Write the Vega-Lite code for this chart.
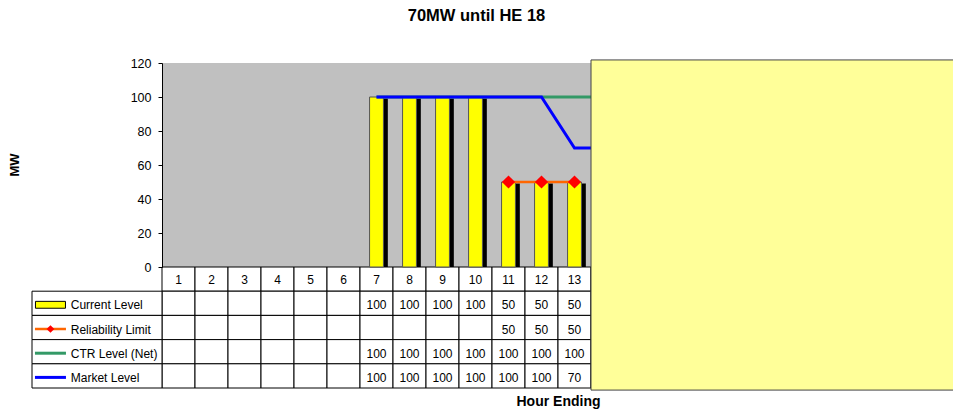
{
  "$schema": "https://vega.github.io/schema/vega-lite/v6.json",
  "autosize": {"type": "none"},
  "padding": {"left": 32, "top": 63, "right": 0, "bottom": 25},
  "width": 921,
  "height": 325,
  "title": {"text": "70MW until HE 18", "font": "Liberation Sans", "fontSize": 16.5, "fontWeight": "bold", "color": "#000", "anchor": "middle", "frame": "group", "baseline": "middle", "offset": 25, "dx": -16},
  "config": {"view": {"stroke": null}, "font": "Liberation Sans", "text": {"font": "Liberation Sans"}},
  "datasets": {
    "hours": [
      {"hour": 1}, {"hour": 2}, {"hour": 3}, {"hour": 4}, {"hour": 5}, {"hour": 6},
      {"hour": 7, "Current Level": 100, "CTR Level (Net)": 100, "Market Level": 100},
      {"hour": 8, "Current Level": 100, "CTR Level (Net)": 100, "Market Level": 100},
      {"hour": 9, "Current Level": 100, "CTR Level (Net)": 100, "Market Level": 100},
      {"hour": 10, "Current Level": 100, "CTR Level (Net)": 100, "Market Level": 100},
      {"hour": 11, "Current Level": 50, "Reliability Limit": 50, "CTR Level (Net)": 100, "Market Level": 100},
      {"hour": 12, "Current Level": 50, "Reliability Limit": 50, "CTR Level (Net)": 100, "Market Level": 100},
      {"hour": 13, "Current Level": 50, "Reliability Limit": 50, "CTR Level (Net)": 100, "Market Level": 70},
      {"hour": 14, "CTR Level (Net)": 100, "Market Level": 70},
      {"hour": 15, "CTR Level (Net)": 100, "Market Level": 70},
      {"hour": 16, "CTR Level (Net)": 100, "Market Level": 70},
      {"hour": 17, "CTR Level (Net)": 100, "Market Level": 70},
      {"hour": 18, "CTR Level (Net)": 100, "Market Level": 70},
      {"hour": 19}, {"hour": 20}, {"hour": 21}, {"hour": 22}, {"hour": 23}, {"hour": 24}
    ],
    "legend": [
      {"series": "Current Level"},
      {"series": "Reliability Limit"},
      {"series": "CTR Level (Net)"},
      {"series": "Market Level"}
    ],
    "cover": [{"from": 14, "to": 24}]
  },
  "resolve": {"scale": {"x": "independent", "y": "independent"}, "axis": {"x": "independent", "y": "independent"}},
  "layer": [
    {
      "data": {"name": "hours"},
      "mark": {"type": "rect", "fill": "#C0C0C0"},
      "encoding": {
        "x": {"field": "hour", "type": "ordinal", "scale": {"domain": [1,2,3,4,5,6,7,8,9,10,11,12,13,14,15,16,17,18,19,20,21,22,23,24], "range": [130, 922], "paddingInner": 0, "paddingOuter": 0}, "axis": null},
        "y": {"datum": 0, "type": "quantitative", "scale": {"domain": [0, 120], "range": [204, 0], "nice": false, "zero": false},
          "axis": {"orient": "left", "offset": -130, "values": [0, 20, 40, 60, 80, 100, 120], "grid": false, "domain": true, "domainColor": "#000", "domainWidth": 1, "ticks": true, "tickColor": "#000", "tickSize": 4, "labelFont": "Liberation Sans", "labelFontSize": 12.5, "labelColor": "#000", "labelPadding": 7, "title": "MW", "titleFont": "Liberation Sans", "titleFontSize": 13, "titleFontWeight": "bold", "titleColor": "#000", "titleX": -148, "titleY": 101.5, "titleAngle": -90, "titleAlign": "center", "titleBaseline": "middle", "zindex": 1}},
        "y2": {"datum": 120}
      }
    },
    {
      "data": {"name": "hours"},
      "mark": {"type": "rect", "fill": "#FFFFFF", "stroke": "#000", "strokeWidth": 1},
      "encoding": {
        "x": {"field": "hour", "type": "ordinal", "scale": {"domain": [1,2,3,4,5,6,7,8,9,10,11,12,13,14,15,16,17,18,19,20,21,22,23,24], "range": [130, 922], "paddingInner": 0, "paddingOuter": 0},
          "axis": {"orient": "bottom", "labels": false, "ticks": false, "domain": false, "grid": false, "title": "Hour Ending", "titleFont": "Liberation Sans", "titleFontSize": 14, "titleFontWeight": "bold", "titleColor": "#000", "titleY": 13, "titleBaseline": "middle"}},
        "y": {"datum": "HE", "type": "nominal", "scale": {"domain": ["HE", "Current Level", "Reliability Limit", "CTR Level (Net)", "Market Level"], "range": [204, 325], "paddingInner": 0, "paddingOuter": 0}, "axis": null}
      }
    },
    {
      "data": {"name": "hours"},
      "transform": [{"fold": ["Current Level", "Reliability Limit", "CTR Level (Net)", "Market Level"], "as": ["series", "value"]}],
      "mark": {"type": "rect", "fill": "#FFFFFF", "stroke": "#000", "strokeWidth": 1},
      "encoding": {
        "x": {"field": "hour", "type": "ordinal", "scale": {"domain": [1,2,3,4,5,6,7,8,9,10,11,12,13,14,15,16,17,18,19,20,21,22,23,24], "range": [130, 922], "paddingInner": 0, "paddingOuter": 0}, "axis": null},
        "y": {"field": "series", "type": "nominal", "scale": {"domain": ["HE", "Current Level", "Reliability Limit", "CTR Level (Net)", "Market Level"], "range": [204, 325], "paddingInner": 0, "paddingOuter": 0}, "axis": null}
      }
    },
    {
      "data": {"name": "legend"},
      "mark": {"type": "rect", "fill": "#FFFFFF", "stroke": "#000", "strokeWidth": 1},
      "encoding": {
        "x": {"datum": 0, "type": "quantitative", "scale": {"domain": [0, 1], "range": [0, 130], "nice": false, "zero": false}, "axis": null},
        "x2": {"datum": 1},
        "y": {"field": "series", "type": "nominal", "scale": {"domain": ["HE", "Current Level", "Reliability Limit", "CTR Level (Net)", "Market Level"], "range": [204, 325], "paddingInner": 0, "paddingOuter": 0}, "axis": null}
      }
    },
    {
      "data": {"name": "hours"},
      "mark": {"type": "text", "fontSize": 12, "color": "#000", "align": "center", "baseline": "middle", "dy": 1},
      "encoding": {
        "x": {"field": "hour", "type": "ordinal", "scale": {"domain": [1,2,3,4,5,6,7,8,9,10,11,12,13,14,15,16,17,18,19,20,21,22,23,24], "range": [130, 922], "paddingInner": 0, "paddingOuter": 0}, "axis": null},
        "y": {"datum": "HE", "type": "nominal", "scale": {"domain": ["HE", "Current Level", "Reliability Limit", "CTR Level (Net)", "Market Level"], "range": [204, 325], "paddingInner": 0, "paddingOuter": 0}, "axis": null},
        "text": {"field": "hour", "type": "ordinal"}
      }
    },
    {
      "data": {"name": "hours"},
      "transform": [
        {"fold": ["Current Level", "Reliability Limit", "CTR Level (Net)", "Market Level"], "as": ["series", "value"]},
        {"filter": "datum.value != null"}
      ],
      "mark": {"type": "text", "fontSize": 12, "color": "#000", "align": "center", "baseline": "middle", "dy": 2},
      "encoding": {
        "x": {"field": "hour", "type": "ordinal", "scale": {"domain": [1,2,3,4,5,6,7,8,9,10,11,12,13,14,15,16,17,18,19,20,21,22,23,24], "range": [130, 922], "paddingInner": 0, "paddingOuter": 0}, "axis": null},
        "y": {"field": "series", "type": "nominal", "scale": {"domain": ["HE", "Current Level", "Reliability Limit", "CTR Level (Net)", "Market Level"], "range": [204, 325], "paddingInner": 0, "paddingOuter": 0}, "axis": null},
        "text": {"field": "value", "type": "quantitative"}
      }
    },
    {
      "data": {"name": "legend"},
      "mark": {"type": "text", "fontSize": 12, "color": "#000", "align": "left", "baseline": "middle", "dy": 2},
      "encoding": {
        "x": {"datum": 0.298, "type": "quantitative", "scale": {"domain": [0, 1], "range": [0, 130], "nice": false, "zero": false}, "axis": null},
        "y": {"field": "series", "type": "nominal", "scale": {"domain": ["HE", "Current Level", "Reliability Limit", "CTR Level (Net)", "Market Level"], "range": [204, 325], "paddingInner": 0, "paddingOuter": 0}, "axis": null},
        "text": {"field": "series", "type": "nominal"}
      }
    },
    {
      "data": {"name": "legend"},
      "transform": [{"filter": "datum.series == 'Current Level'"}],
      "mark": {"type": "point", "shape": "M-1,-0.23H1V0.23H-1Z", "size": 900, "filled": true, "fill": "#FFFF00", "stroke": "#000", "strokeWidth": 1, "opacity": 1, "yOffset": 1.5},
      "encoding": {
        "x": {"datum": 0.142, "type": "quantitative", "scale": {"domain": [0, 1], "range": [0, 130], "nice": false, "zero": false}, "axis": null},
        "y": {"field": "series", "type": "nominal", "scale": {"domain": ["HE", "Current Level", "Reliability Limit", "CTR Level (Net)", "Market Level"], "range": [204, 325], "paddingInner": 0, "paddingOuter": 0}, "axis": null}
      }
    },
    {
      "data": {"name": "legend"},
      "transform": [{"filter": "datum.series == 'Reliability Limit'"}],
      "mark": {"type": "point", "shape": "M-1,0H1", "size": 961, "filled": false, "stroke": "#FF6600", "strokeWidth": 2.5, "opacity": 1, "yOffset": 1.5},
      "encoding": {
        "x": {"datum": 0.142, "type": "quantitative", "scale": {"domain": [0, 1], "range": [0, 130], "nice": false, "zero": false}, "axis": null},
        "y": {"field": "series", "type": "nominal", "scale": {"domain": ["HE", "Current Level", "Reliability Limit", "CTR Level (Net)", "Market Level"], "range": [204, 325], "paddingInner": 0, "paddingOuter": 0}, "axis": null}
      }
    },
    {
      "data": {"name": "legend"},
      "transform": [{"filter": "datum.series == 'Reliability Limit'"}],
      "mark": {"type": "point", "shape": "diamond", "size": 60, "filled": true, "fill": "#FF0000", "opacity": 1, "yOffset": 1.5},
      "encoding": {
        "x": {"datum": 0.142, "type": "quantitative", "scale": {"domain": [0, 1], "range": [0, 130], "nice": false, "zero": false}, "axis": null},
        "y": {"field": "series", "type": "nominal", "scale": {"domain": ["HE", "Current Level", "Reliability Limit", "CTR Level (Net)", "Market Level"], "range": [204, 325], "paddingInner": 0, "paddingOuter": 0}, "axis": null}
      }
    },
    {
      "data": {"name": "legend"},
      "transform": [{"filter": "datum.series == 'CTR Level (Net)'"}],
      "mark": {"type": "point", "shape": "M-1,0H1", "size": 961, "filled": false, "stroke": "#339966", "strokeWidth": 3, "opacity": 1, "yOffset": 1.5},
      "encoding": {
        "x": {"datum": 0.142, "type": "quantitative", "scale": {"domain": [0, 1], "range": [0, 130], "nice": false, "zero": false}, "axis": null},
        "y": {"field": "series", "type": "nominal", "scale": {"domain": ["HE", "Current Level", "Reliability Limit", "CTR Level (Net)", "Market Level"], "range": [204, 325], "paddingInner": 0, "paddingOuter": 0}, "axis": null}
      }
    },
    {
      "data": {"name": "legend"},
      "transform": [{"filter": "datum.series == 'Market Level'"}],
      "mark": {"type": "point", "shape": "M-1,0H1", "size": 961, "filled": false, "stroke": "#0000FF", "strokeWidth": 3, "opacity": 1, "yOffset": 1.5},
      "encoding": {
        "x": {"datum": 0.142, "type": "quantitative", "scale": {"domain": [0, 1], "range": [0, 130], "nice": false, "zero": false}, "axis": null},
        "y": {"field": "series", "type": "nominal", "scale": {"domain": ["HE", "Current Level", "Reliability Limit", "CTR Level (Net)", "Market Level"], "range": [204, 325], "paddingInner": 0, "paddingOuter": 0}, "axis": null}
      }
    },
    {
      "data": {"name": "hours"},
      "transform": [{"filter": "datum['Current Level'] != null"}],
      "mark": {"type": "bar", "width": {"band": 0.42}, "xOffset": 4.4, "yOffset": 1.5, "fill": "#000000"},
      "encoding": {
        "x": {"field": "hour", "type": "ordinal", "scale": {"domain": [1,2,3,4,5,6,7,8,9,10,11,12,13,14,15,16,17,18,19,20,21,22,23,24], "range": [130, 922], "paddingInner": 0, "paddingOuter": 0}, "axis": null},
        "y": {"field": "Current Level", "type": "quantitative", "scale": {"domain": [0, 120], "range": [204, 0], "nice": false, "zero": false}, "axis": null},
        "y2": {"datum": 0}
      }
    },
    {
      "data": {"name": "hours"},
      "transform": [{"filter": "datum['Current Level'] != null"}],
      "mark": {"type": "bar", "width": {"band": 0.42}, "fill": "#FFFF00", "stroke": "#555555", "strokeWidth": 1},
      "encoding": {
        "x": {"field": "hour", "type": "ordinal", "scale": {"domain": [1,2,3,4,5,6,7,8,9,10,11,12,13,14,15,16,17,18,19,20,21,22,23,24], "range": [130, 922], "paddingInner": 0, "paddingOuter": 0}, "axis": null},
        "y": {"field": "Current Level", "type": "quantitative", "scale": {"domain": [0, 120], "range": [204, 0], "nice": false, "zero": false}, "axis": null},
        "y2": {"datum": 0}
      }
    },
    {
      "data": {"name": "hours"},
      "mark": {"type": "line", "stroke": "#339966", "strokeWidth": 3},
      "encoding": {
        "x": {"field": "hour", "type": "ordinal", "scale": {"domain": [1,2,3,4,5,6,7,8,9,10,11,12,13,14,15,16,17,18,19,20,21,22,23,24], "range": [130, 922], "paddingInner": 0, "paddingOuter": 0}, "axis": null},
        "y": {"field": "CTR Level (Net)", "type": "quantitative", "scale": {"domain": [0, 120], "range": [204, 0], "nice": false, "zero": false}, "axis": null}
      }
    },
    {
      "data": {"name": "hours"},
      "mark": {"type": "line", "stroke": "#0000FF", "strokeWidth": 3},
      "encoding": {
        "x": {"field": "hour", "type": "ordinal", "scale": {"domain": [1,2,3,4,5,6,7,8,9,10,11,12,13,14,15,16,17,18,19,20,21,22,23,24], "range": [130, 922], "paddingInner": 0, "paddingOuter": 0}, "axis": null},
        "y": {"field": "Market Level", "type": "quantitative", "scale": {"domain": [0, 120], "range": [204, 0], "nice": false, "zero": false}, "axis": null}
      }
    },
    {
      "data": {"name": "hours"},
      "mark": {"type": "line", "stroke": "#FF6600", "strokeWidth": 2.5},
      "encoding": {
        "x": {"field": "hour", "type": "ordinal", "scale": {"domain": [1,2,3,4,5,6,7,8,9,10,11,12,13,14,15,16,17,18,19,20,21,22,23,24], "range": [130, 922], "paddingInner": 0, "paddingOuter": 0}, "axis": null},
        "y": {"field": "Reliability Limit", "type": "quantitative", "scale": {"domain": [0, 120], "range": [204, 0], "nice": false, "zero": false}, "axis": null}
      }
    },
    {
      "data": {"name": "hours"},
      "transform": [{"filter": "datum['Reliability Limit'] != null"}],
      "mark": {"type": "point", "shape": "diamond", "size": 175, "filled": true, "fill": "#FF0000", "opacity": 1},
      "encoding": {
        "x": {"field": "hour", "type": "ordinal", "scale": {"domain": [1,2,3,4,5,6,7,8,9,10,11,12,13,14,15,16,17,18,19,20,21,22,23,24], "range": [130, 922], "paddingInner": 0, "paddingOuter": 0}, "axis": null},
        "y": {"field": "Reliability Limit", "type": "quantitative", "scale": {"domain": [0, 120], "range": [204, 0], "nice": false, "zero": false}, "axis": null}
      }
    },
    {
      "data": {"name": "cover"},
      "mark": {"type": "rect", "fill": "#FFFF99", "stroke": "#444444", "strokeWidth": 1},
      "encoding": {
        "x": {"field": "from", "type": "ordinal", "bandPosition": 0, "scale": {"domain": [1,2,3,4,5,6,7,8,9,10,11,12,13,14,15,16,17,18,19,20,21,22,23,24], "range": [130, 922], "paddingInner": 0, "paddingOuter": 0}, "axis": null},
        "x2": {"field": "to", "bandPosition": 1},
        "y": {"datum": 121.8, "type": "quantitative", "scale": {"domain": [0, 120], "range": [204, 0], "nice": false, "zero": false}, "axis": null},
        "y2": {"datum": -72.4}
      }
    }
  ]
}
